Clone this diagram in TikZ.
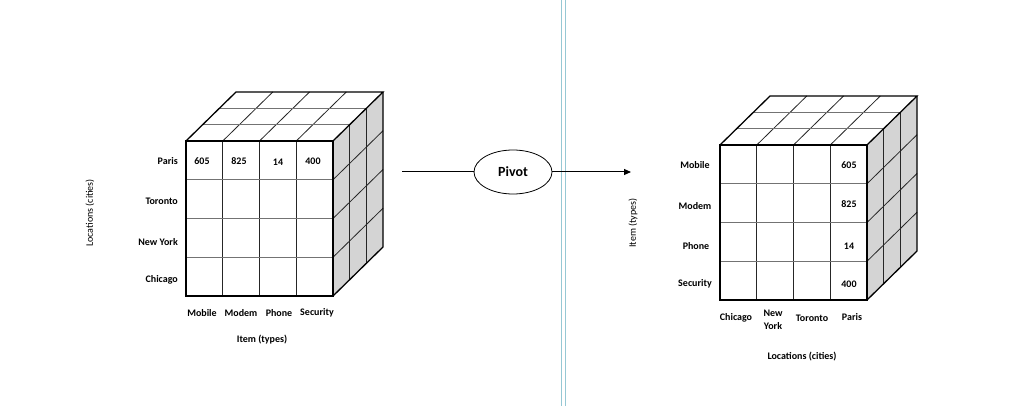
\documentclass[tikz,border=0pt]{standalone}
\usepackage{fontspec}
\setmainfont{Carlito}
\usetikzlibrary{arrows.meta,shapes.geometric}
\newcommand\drawmycube[2]{%
\begin{scope}[shift={(#1,#2)}]
  \fill[sidefill] (147,0) -- (197,-49) -- (197,106) -- (147,155) -- cycle;
  % front face grid
  \foreach \i in {1,2,3} {\draw[inner] (36.75*\i,0) -- (36.75*\i,155);}
  \foreach \j in {1,2,3} {\draw[innergray] (0,38.75*\j) -- (147,38.75*\j);}
  % top face grid
  \foreach \i in {1,2,3} {\draw[inner] (36.75*\i,0) -- (36.75*\i+50,-49);}
  \foreach \k in {1,2} {\draw[innergray] (50*\k/3,-49*\k/3) -- (147+50*\k/3,-49*\k/3);}
  % right face grid
  \foreach \k in {1,2} {\draw[inner] (147+50*\k/3,-49*\k/3) -- (147+50*\k/3,155-49*\k/3);}
  \foreach \j in {1,2,3} {\draw[inner] (147,38.75*\j) -- (197,38.75*\j-49);}
  % outline
  \draw[outer] (0,0) rectangle (147,155);
  \draw[outer] (0,0) -- (50,-49) -- (197,-49) -- (147,0);
  \draw[outer] (197,-49) -- (197,106) -- (147,155);
\end{scope}}
\begin{document}
\begin{tikzpicture}[x=1pt,y=-1pt,
  lbl/.style={font=\fontsize{10}{11}\selectfont\bfseries, inner sep=0pt},
  axis/.style={font=\fontsize{10}{11}\selectfont, inner sep=0pt},
  sidefill/.style={fill=black!17},
  inner/.style={line width=0.8pt, black!85},
  innergray/.style={line width=0.8pt, black!55},
  outer/.style={line width=1.3pt, black, line join=miter},
  sep/.style={line width=0.9pt, color={rgb,255:red,150;green,200;blue,212}}]
\useasboundingbox (0,0) rectangle (1024,406);
\fill[white] (0,0) rectangle (1024,406);

% separator
\draw[sep] (561,0) -- (561,406);
\draw[sep] (565,0) -- (565,406);

% left cube
\drawmycube{186}{141}
\node[lbl, anchor=east] (lparis) at (178,161) {Paris};
\node[lbl, anchor=east] (ltoronto) at (178,201) {Toronto};
\node[lbl, anchor=east] (lnewyork) at (178,242) {New York};
\node[lbl, anchor=east] (lchicago) at (178,280) {Chicago};
\node[lbl] (lmobile) at (202,313) {Mobile};
\node[lbl] (lmodem) at (241,313) {Modem};
\node[lbl] (lphone) at (279,313) {Phone};
\node[lbl] (lsecurity) at (317,313) {Security};
\node[lbl] (litem) at (262,340) {Item (types)};
\node[axis, rotate=90] (lloc) at (90,213) {Locations (cities)};
\node[lbl] (lv1) at (202,161) {605};
\node[lbl] (lv2) at (239,161) {825};
\node[lbl] (lv3) at (278,162) {14};
\node[lbl] (lv4) at (313,161) {400};

% pivot
\coordinate (pstart) at (402,172);
\coordinate (pend) at (631,172);
\node[draw, ellipse, line width=0.8pt, minimum width=78pt, minimum height=44pt, inner sep=0pt,
      font=\fontsize{14}{16}\selectfont\bfseries] (pivot) at (513,172) {Pivot};
\draw[line width=1pt] (pstart) -- (pivot);
\draw[line width=1pt, -{Triangle[length=7pt,width=6pt]}] (pivot) -- (pend);

% right cube
\drawmycube{720}{145}
\node[lbl] (rmobile) at (695,165) {Mobile};
\node[lbl] (rmodem) at (695,206) {Modem};
\node[lbl] (rphone) at (696,246) {Phone};
\node[lbl] (rsecurity) at (695,284) {Security};
\node[lbl] (rv1) at (849,165) {605};
\node[lbl] (rv2) at (849,204) {825};
\node[lbl] (rv3) at (849,246) {14};
\node[lbl] (rv4) at (849,284) {400};
\node[lbl] (rchicago) at (736,318) {Chicago};
\node[lbl, align=center, font=\fontsize{10}{12.5}\selectfont\bfseries] (rnewyork) at (773,320) {New\\York};
\node[lbl] (rtoronto) at (812,318) {Toronto};
\node[lbl] (rparis) at (852,317) {Paris};
\node[lbl] (rloc) at (802,357) {Locations (cities)};
\node[axis, rotate=90] (ritem) at (633,223) {Item (types)};
\end{tikzpicture}
\end{document}
